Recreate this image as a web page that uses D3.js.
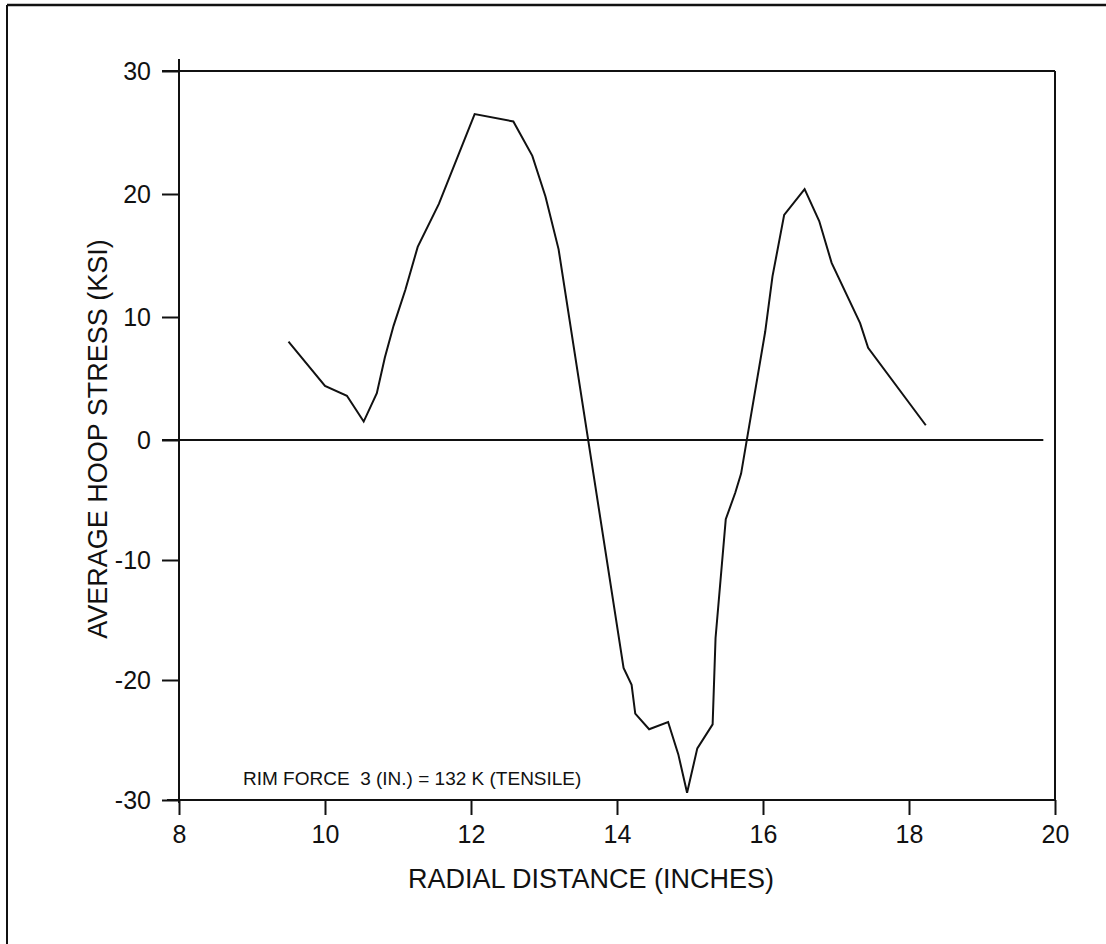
<!DOCTYPE html>
<html>
<head>
<meta charset="utf-8">
<script src="https://cdn.jsdelivr.net/npm/d3@7"></script>
<style>
  html, body { margin: 0; padding: 0; background: #fff; }
  svg { display: block; }
  text { font-family: "Liberation Sans", Arial, Helvetica, sans-serif; fill: #111; }
</style>
</head>
<body>
<svg id="chart" width="1106" height="944"></svg>
<script>
// Radial position (inches) and average hoop stress (ksi)
const radius = [9.50, 10.00, 10.30, 10.53, 10.71, 10.82, 10.94, 11.10, 11.27, 11.56,
                12.05, 12.58, 12.84, 13.02, 13.20, 14.09, 14.20, 14.25, 14.44, 14.70,
                14.84, 14.96, 15.10, 15.31, 15.35, 15.49, 15.62, 15.70, 16.03, 16.13,
                16.29, 16.57, 16.77, 16.94, 17.33, 17.44, 18.23];
const stress = [8.0, 4.4, 3.6, 1.5, 3.8, 6.7, 9.3, 12.2, 15.7, 19.2,
                26.5, 25.9, 23.1, 19.8, 15.5, -19.0, -20.4, -22.8, -24.1, -23.5,
                -26.2, -29.4, -25.7, -23.7, -16.5, -6.6, -4.4, -2.8, 8.8, 13.3,
                18.3, 20.4, 17.8, 14.4, 9.5, 7.5, 1.2];

const xTicks = [8, 10, 12, 14, 16, 18, 20];
const yTicks = [-30, -20, -10, 0, 10, 20, 30];

const xTitle = "RADIAL DISTANCE (INCHES)";
const yTitle = "AVERAGE HOOP STRESS (KSI)";
const note = "RIM FORCE  3 (IN.) = 132 K (TENSILE)";

const svg = d3.select("#chart");

const x = d3.scaleLinear().domain([8, 20]).range([179, 1055]);
const y = d3.scaleLinear().domain([-30, 0, 30]).range([800, 440, 71]);

// outer page frame (top and left edges)
svg.append("line").attr("x1", 7).attr("x2", 1106).attr("y1", 5).attr("y2", 5)
  .attr("stroke", "#111").attr("stroke-width", 2.5);
svg.append("line").attr("x1", 7).attr("x2", 7).attr("y1", 5).attr("y2", 944)
  .attr("stroke", "#111").attr("stroke-width", 2);

// plot box
const box = svg.append("g").attr("stroke", "#111").attr("stroke-width", 2).attr("fill", "none");
box.append("line").attr("x1", x(8) - 17).attr("x2", x(20)).attr("y1", y(30)).attr("y2", y(30));
box.append("line").attr("x1", x(20)).attr("x2", x(20)).attr("y1", y(30)).attr("y2", y(-30));
box.append("line").attr("x1", x(8)).attr("x2", x(8)).attr("y1", y(30) - 12).attr("y2", y(-30) + 3);
box.append("line").attr("x1", x(8) - 12).attr("x2", x(20)).attr("y1", y(-30)).attr("y2", y(-30));
// zero reference line
box.append("line").attr("x1", x(8) - 17).attr("x2", x(19.84)).attr("y1", y(0)).attr("y2", y(0));

const tickFont = 25;

// y axis ticks and labels
const yAxis = d3.axisLeft(y).tickValues(yTicks).tickFormat(d => String(d))
  .tickSize(17).tickSizeOuter(0).tickPadding(11);
const gy = svg.append("g").attr("transform", `translate(${x(8)},0)`).call(yAxis);
gy.select(".domain").remove();
gy.selectAll(".tick line").attr("stroke", "#111").attr("stroke-width", 2);
gy.selectAll(".tick text").attr("font-size", tickFont).attr("fill", "#111")
  .style("font-family", "'Liberation Sans', Arial, sans-serif");

// x axis ticks and labels
const xAxis = d3.axisBottom(x).tickValues(xTicks).tickFormat(d => String(d))
  .tickSize(15).tickSizeOuter(0);
const gx = svg.append("g").attr("transform", `translate(0,${y(-30)})`).call(xAxis);
gx.select(".domain").remove();
gx.selectAll(".tick line").attr("stroke", "#111").attr("stroke-width", 2);
gx.selectAll(".tick text").attr("font-size", tickFont).attr("fill", "#111")
  .attr("y", 43).attr("dy", null)
  .style("font-family", "'Liberation Sans', Arial, sans-serif");

// stress curve
const line = d3.line().x((d, i) => x(radius[i])).y((d, i) => y(stress[i]));
svg.append("path")
  .attr("d", line(radius))
  .attr("fill", "none")
  .attr("stroke", "#111")
  .attr("stroke-width", 2)
  .attr("stroke-linejoin", "miter");

// axis titles
svg.append("text")
  .attr("x", 408).attr("y", 888)
  .attr("font-size", 27)
  .text(xTitle);

svg.append("text")
  .attr("transform", `translate(107,439) rotate(-90)`)
  .attr("text-anchor", "middle")
  .attr("font-size", 27)
  .text(yTitle);

// annotation
svg.append("text")
  .attr("x", 243).attr("y", 785)
  .attr("font-size", 19)
  .style("white-space", "pre")
  .text(note);
</script>
</body>
</html>
